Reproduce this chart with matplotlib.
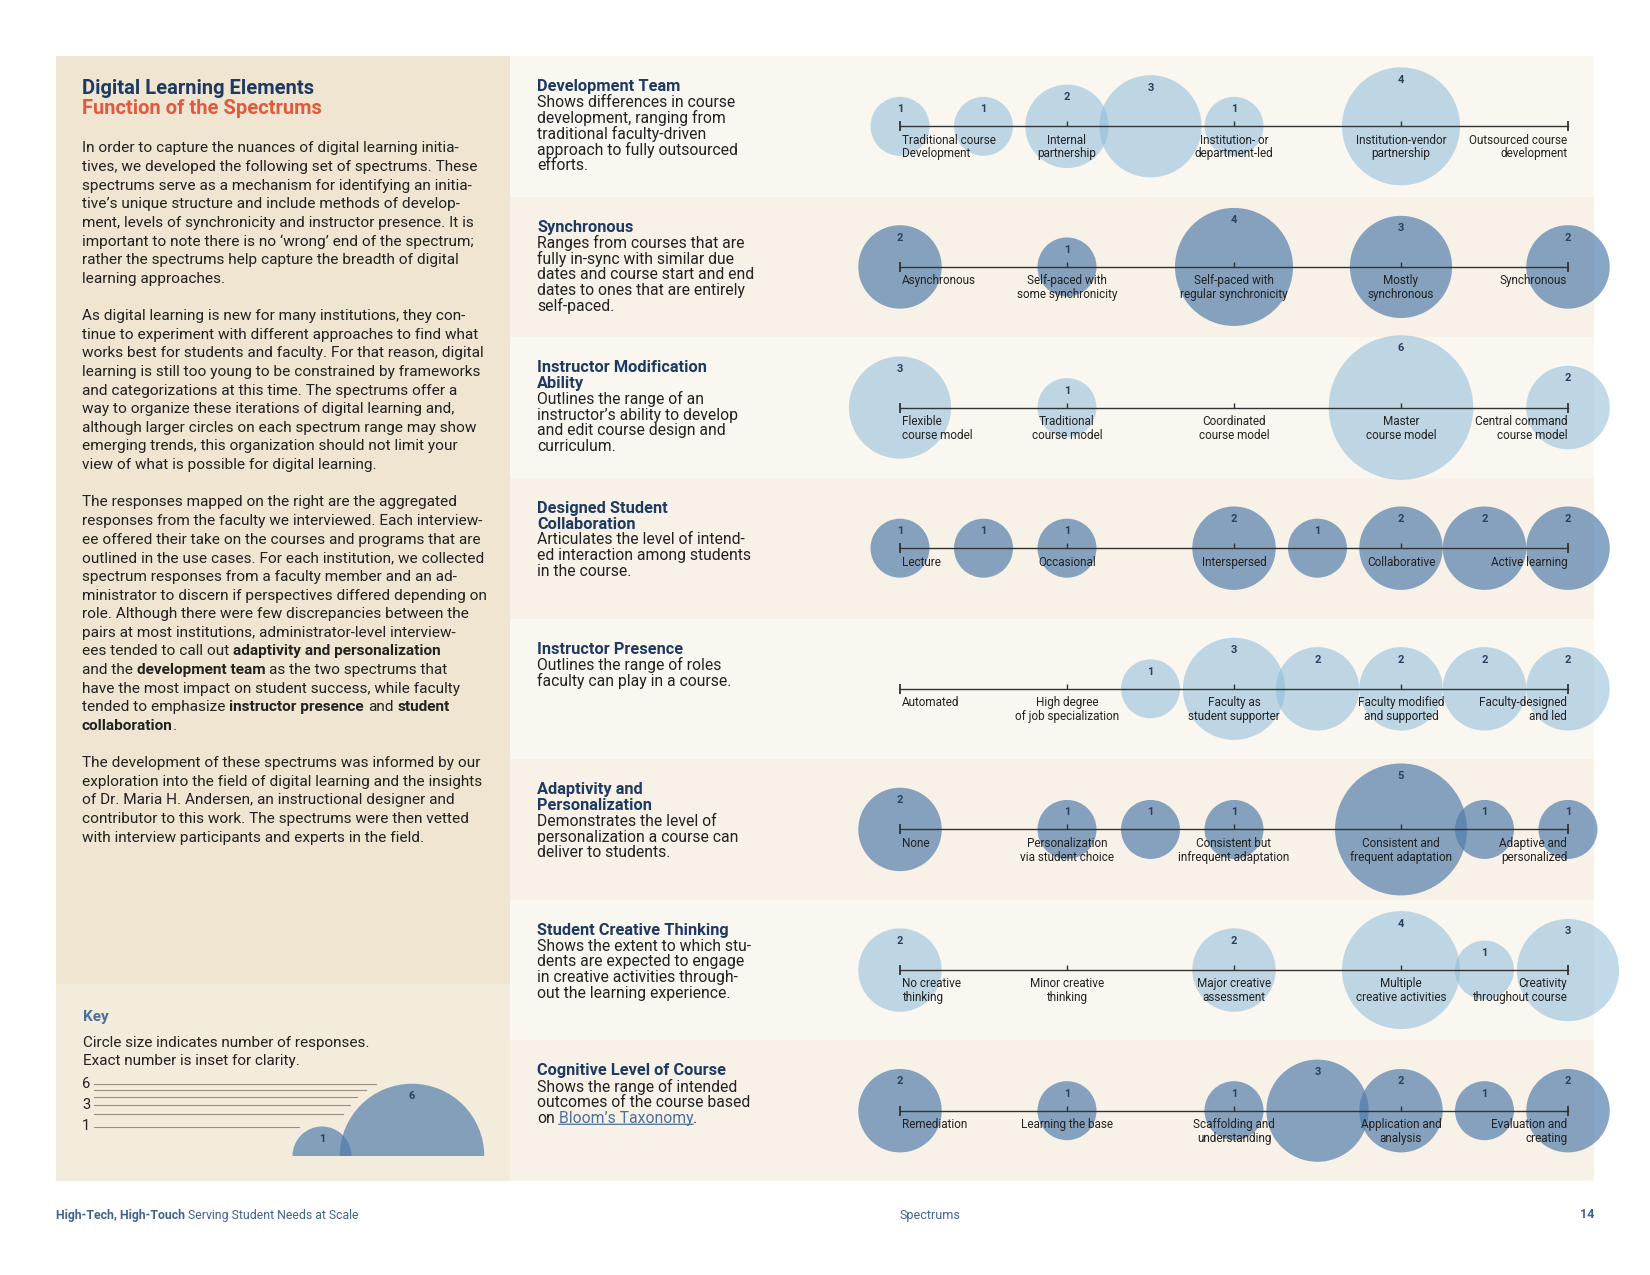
import re
import numpy as np
import matplotlib.pyplot as plt
from matplotlib.patches import Rectangle

plt.rcParams['font.family'] = ['Roboto', 'DejaVu Sans']

# ---- spectrum data (position 0..8 along the scale, number of responses) ----
dev_pos, dev_n = [0, 1, 2, 3, 4, 6], [1, 1, 2, 3, 1, 4]
sync_pos, sync_n = [0, 2, 4, 6, 8], [2, 1, 4, 3, 2]
modif_pos, modif_n = [0, 2, 6, 8], [3, 1, 6, 2]
collab_pos, collab_n = [0, 1, 2, 4, 5, 6, 7, 8], [1, 1, 1, 2, 1, 2, 2, 2]
presence_pos, presence_n = [3, 4, 5, 6, 7, 8], [1, 3, 2, 2, 2, 2]
adapt_pos, adapt_n = [0, 2, 3, 4, 6, 7, 8], [2, 1, 1, 1, 5, 1, 1]
creative_pos, creative_n = [0, 4, 6, 7, 8], [2, 2, 4, 1, 3]
cognitive_pos, cognitive_n = [0, 2, 4, 5, 6, 7, 8], [2, 1, 1, 3, 2, 1, 2]

titles = ['Development Team', 'Synchronous', 'Instructor Modification\nAbility',
          'Designed Student\nCollaboration', 'Instructor Presence',
          'Adaptivity and\nPersonalization', 'Student Creative Thinking',
          'Cognitive Level of Course']

descriptions = [
    'Shows differences in course\ndevelopment, ranging from\ntraditional faculty-driven\n'
    'approach to fully outsourced\nefforts.',
    'Ranges from courses that are\nfully in-sync with similar due\ndates and course start and end\n'
    'dates to ones that are entirely\nself-paced.',
    'Outlines the range of an\ninstructor’s ability to develop\nand edit course design and\ncurriculum.',
    'Articulates the level of intend-\ned interaction among students\nin the course.',
    'Outlines the range of roles\nfaculty can play in a course.',
    'Demonstrates the level of\npersonalization a course can\ndeliver to students.',
    'Shows the extent to which stu-\ndents are expected to engage\nin creative activities through-\n'
    'out the learning experience.',
    'Shows the range of intended\noutcomes of the course based\non __Bloom’s Taxonomy__.',
]

scale_labels = [
    ['Traditional course\nDevelopment', 'Internal\npartnership', 'Institution- or\ndepartment-led',
     'Institution-vendor\npartnership', 'Outsourced course\ndevelopment'],
    ['Asynchronous', 'Self-paced with\nsome synchronicity', 'Self-paced with\nregular synchronicity',
     'Mostly\nsynchronous', 'Synchronous'],
    ['Flexible\ncourse model', 'Traditional\ncourse model', 'Coordinated\ncourse model',
     'Master\ncourse model', 'Central command\ncourse model'],
    ['Lecture', 'Occasional', 'Interspersed', 'Collaborative', 'Active learning'],
    ['Automated', 'High degree\nof job specialization', 'Faculty as\nstudent supporter',
     'Faculty modified\nand supported', 'Faculty-designed\nand led'],
    ['None', 'Personalization\nvia student choice', 'Consistent but\ninfrequent adaptation',
     'Consistent and\nfrequent adaptation', 'Adaptive and\npersonalized'],
    ['No creative\nthinking', 'Minor creative\nthinking', 'Major creative\nassessment',
     'Multiple\ncreative activities', 'Creativity\nthroughout course'],
    ['Remediation', 'Learning the base', 'Scaffolding and\nunderstanding',
     'Application and\nanalysis', 'Evaluation and\ncreating'],
]

positions = [dev_pos, sync_pos, modif_pos, collab_pos, presence_pos, adapt_pos, creative_pos, cognitive_pos]
counts = [dev_n, sync_n, modif_n, collab_n, presence_n, adapt_n, creative_n, cognitive_n]

key_counts = [1, 6]

intro_text = [
    'In order to capture the nuances of digital learning initia-',
    'tives, we developed the following set of spectrums. These',
    'spectrums serve as a mechanism for identifying an initia-',
    'tive’s unique structure and include methods of develop-',
    'ment, levels of synchronicity and instructor presence. It is',
    'important to note there is no ‘wrong’ end of the spectrum;',
    'rather the spectrums help capture the breadth of digital',
    'learning approaches.',
    '',
    'As digital learning is new for many institutions, they con-',
    'tinue to experiment with different approaches to find what',
    'works best for students and faculty. For that reason, digital',
    'learning is still too young to be constrained by frameworks',
    'and categorizations at this time. The spectrums offer a',
    'way to organize these iterations of digital learning and,',
    'although larger circles on each spectrum range may show',
    'emerging trends, this organization should not limit your',
    'view of what is possible for digital learning.',
    '',
    'The responses mapped on the right are the aggregated',
    'responses from the faculty we interviewed. Each interview-',
    'ee offered their take on the courses and programs that are',
    'outlined in the use cases. For each institution, we collected',
    'spectrum responses from a faculty member and an ad-',
    'ministrator to discern if perspectives differed depending on',
    'role. Although there were few discrepancies between the',
    'pairs at most institutions, administrator-level interview-',
    'ees tended to call out **adaptivity and personalization**',
    'and the **development team** as the two spectrums that',
    'have the most impact on student success, while faculty',
    'tended to emphasize **instructor presence** and **student**',
    '**collaboration**.',
    '',
    'The development of these spectrums was informed by our',
    'exploration into the field of digital learning and the insights',
    'of Dr. Maria H. Andersen, an instructional designer and',
    'contributor to this work. The spectrums were then vetted',
    'with interview participants and experts in the field.',
]

# ---- colours / layout ----
NAVY = '#1F3A61'
RED = '#E05A3F'
LINK = '#4B709A'
TEXT = '#222222'
NUM = '#2B3F60'
LINE = '#333333'
LIGHT, LIGHT_A = '#8DBCD8', 0.55
DARK, DARK_A = '#4F7BAA', 0.68

W, H = 1650, 1275
TOP, BOTTOM = 56, 1181
LEFT_X0, LEFT_X1, RIGHT_X1 = 56, 510, 1594
KEY_TOP = 984
ROW_H = (BOTTOM - TOP) / 8
AX_X0, AX_X1 = 900, 1568
R1_PT = 21.24                      # radius (pt) of a one-response circle
S1 = (2 * R1_PT) ** 2              # scatter area for one response

fig = plt.figure(figsize=(W / 100, H / 100), dpi=100)
fig.patch.set_facecolor('white')
bg = fig.add_axes([0, 0, 1, 1])
bg.set_xlim(0, W)
bg.set_ylim(H, 0)
bg.axis('off')


def rich_line(x, y, line, size, color, ha='left'):
    # draws a line where **bold** and __link__ parts are chained after each other
    prev = None
    gap = 0
    for tok in re.split(r'(\*\*.+?\*\*|__.+?__)', line):
        if not tok:
            continue
        style = dict(color=color, weight='normal')
        link = False
        if tok.startswith('**'):
            tok = tok[2:-2]
            style['weight'] = 'bold'
        elif tok.startswith('__'):
            tok = tok[2:-2]
            style['color'] = LINK
            link = True
        lead = len(tok) - len(tok.lstrip(' '))
        gap += lead * 0.25 * size
        body = tok.strip(' ')
        if prev is None:
            prev = bg.text(x, y, body, fontsize=size, va='center', ha=ha, **style)
        else:
            prev = bg.annotate(body, xy=(1, 0.5), xycoords=prev, xytext=(gap, 0),
                               textcoords='offset points', va='center', ha='left',
                               fontsize=size, **style)
        if link:
            bg.annotate('', xy=(0, 0.1), xycoords=prev, xytext=(1, 0.1), textcoords=prev,
                        arrowprops=dict(arrowstyle='-', color=LINK, lw=0.9, shrinkA=0, shrinkB=0))
        gap = (len(tok) - len(tok.rstrip(' '))) * 0.25 * size
    return prev


# ---- backgrounds ----
bg.add_patch(Rectangle((LEFT_X0, TOP), LEFT_X1 - LEFT_X0, KEY_TOP - TOP, color='#EFE5D1', lw=0))
bg.add_patch(Rectangle((LEFT_X0, KEY_TOP), LEFT_X1 - LEFT_X0, BOTTOM - KEY_TOP, color='#F3EBDC', lw=0))
for i in range(8):
    bg.add_patch(Rectangle((LEFT_X1, TOP + i * ROW_H), RIGHT_X1 - LEFT_X1, ROW_H,
                           color='#FAF7F1' if i % 2 == 0 else '#F7F1E7', lw=0))

# ---- left panel ----
bg.text(82, 88, 'Digital Learning Elements', fontsize=14.5, weight='bold', color=NAVY, va='center')
bg.text(82, 108, 'Function of the Spectrums', fontsize=14.5, weight='bold', color=RED, va='center')
for j, line in enumerate(intro_text):
    if line:
        rich_line(82, 148.4 + j * 18.63, line, 11.1, TEXT)

# key
bg.text(83, 1017, 'Key', fontsize=11, weight='bold', color=LINK, va='center')
bg.text(83, 1043, 'Circle size indicates number of responses.', fontsize=11, color=TEXT, va='center')
bg.text(83, 1061, 'Exact number is inset for clarity.', fontsize=11, color=TEXT, va='center')

kx = fig.add_axes([60 / W, 1 - 1156 / H, 440 / W, 100 / H])
kx.set_xlim(60, 500)
kx.set_ylim(0, 100)
kx.axis('off')
key_line_end = [299, 343, 350, 357, 366, 376]
for n, x_end in zip(range(1, 7), key_line_end):
    r_px = R1_PT / 0.72 * np.sqrt(n)
    kx.plot([94, x_end], [r_px, r_px], color='#9A9080', lw=0.8)
    if n in (1, 3, 6):
        kx.text(82, r_px, str(n), fontsize=10.5, color=TEXT, va='center', ha='left')
kx.scatter([322, 412], [0, 0], s=[S1 * n for n in key_counts], c=DARK, alpha=DARK_A, linewidths=0)
for x, n in zip([322, 412], key_counts):
    kx.annotate(str(n), xy=(x, 0), xytext=(0, R1_PT * np.sqrt(n) - 9), textcoords='offset points',
                ha='center', va='center', fontsize=8, weight='bold', color=NUM)

# ---- spectrum rows ----
for i in range(8):
    top = TOP + i * ROW_H
    # title + description
    lines = titles[i].split('\n')
    for j, t in enumerate(lines):
        bg.text(537, top + 30.5 + j * 15.8, t, fontsize=11.8, weight='bold', color=NAVY, va='center')
    for j, t in enumerate(descriptions[i].split('\n')):
        rich_line(537, top + 30.5 + (len(lines) + j) * 15.8, t, 11.3, TEXT)

    ax = fig.add_axes([AX_X0 / W, 1 - (top + ROW_H) / H, (AX_X1 - AX_X0) / W, ROW_H / H])
    ax.set_xlim(0, 8)
    ax.set_ylim(-1, 1)
    ax.axis('off')
    color, alpha = (LIGHT, LIGHT_A) if i % 2 == 0 else (DARK, DARK_A)
    pos, cnt = positions[i], counts[i]
    ax.scatter(pos, [0] * len(pos), s=[S1 * n for n in cnt], c=color, alpha=alpha,
               linewidths=0, clip_on=False, zorder=1)
    ax.plot([0, 8], [0, 0], color=LINE, lw=1.0, zorder=3, clip_on=False)
    ax.plot([0, 8], [0, 0], ls='none', marker='|', ms=6.5, mew=1.3, color=LINE, zorder=3, clip_on=False)
    ax.plot([2, 4, 6], [0, 0, 0], ls='none', marker=2, ms=3.5, mew=1.0, color=LINE, zorder=3)
    for p, n in zip(pos, cnt):
        ax.annotate(str(n), xy=(p, 0), xytext=(0, R1_PT * np.sqrt(n) - 9), textcoords='offset points',
                    ha='center', va='center', fontsize=8, weight='bold', color=NUM, zorder=4)
    for k, lab in enumerate(scale_labels[i]):
        p = 2 * k
        ha, dx = ('left', 1.5) if p == 0 else (('right', -0.5) if p == 8 else ('center', 0))
        for j, t in enumerate(lab.split('\n')):
            ax.annotate(t, xy=(p, 0), xytext=(dx, -10 - j * 9.9), textcoords='offset points',
                        ha=ha, va='center', fontsize=8.5, color=TEXT, zorder=4, annotation_clip=False)

# ---- footer ----
rich_line(56, 1215, '**High-Tech, High-Touch** Serving Student Needs at Scale', 8.8, '#3E6391')
bg.text(900, 1215, 'Spectrums', fontsize=9, color='#3E6391', va='center', ha='left')
bg.text(RIGHT_X1, 1215, '14', fontsize=9, weight='bold', color='#3E6391', va='center', ha='right')

fig.savefig('out.png', dpi=100)
